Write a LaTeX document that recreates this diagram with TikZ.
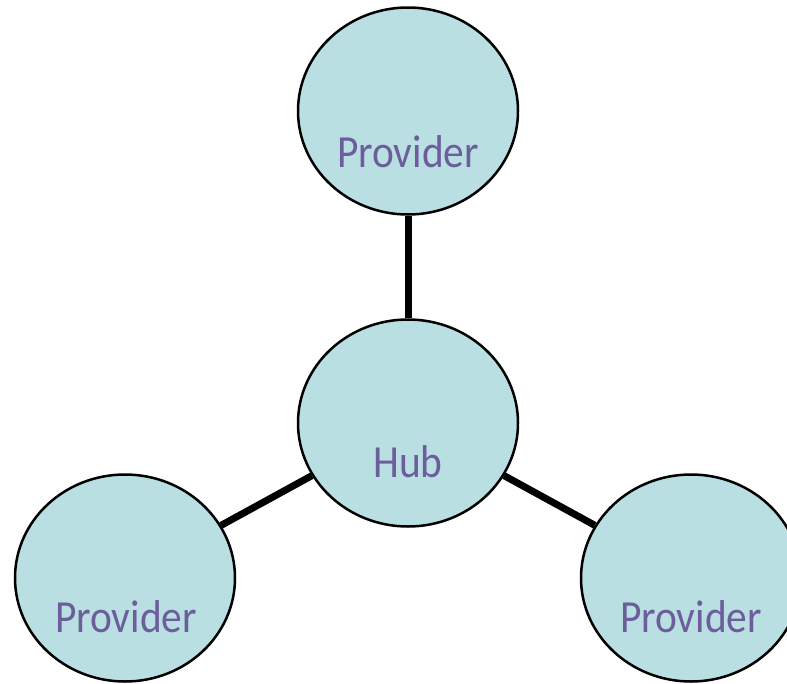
\documentclass[tikz,border=0pt]{standalone}
\usepackage{fontspec}
\setmainfont{Carlito}
\usetikzlibrary{shapes.geometric}
\definecolor{bubblefill}{HTML}{B9DFE2}
\definecolor{labelpurple}{HTML}{6B5E9B}
\begin{document}
\begin{tikzpicture}[x=1pt,y=-1pt,
  bubble/.style={ellipse, draw=black, line width=2.5pt, fill=bubblefill,
    minimum width=220pt, minimum height=207pt, inner sep=0pt},
  caption/.style={anchor=base, text=labelpurple, inner sep=0pt,
    font=\fontsize{46}{50}\selectfont, xscale=0.9},
  link/.style={line width=7pt, black}]
\useasboundingbox (0,0) rectangle (787,683);
\clip (0,0) rectangle (787,683);
% circles
\node[bubble] (top) at (408,111) {};
\node[bubble] (hub) at (408,423) {};
\node[bubble] (left) at (125,578) {};
\node[bubble] (right) at (691,578) {};
% spokes
\draw[link] (top) -- (hub);
\draw[link] (hub) -- (left);
\draw[link] (hub) -- (right);
% labels
\node[caption] (ttop) at (408,167) {Provider};
\node[caption] (thub) at (408,477) {Hub};
\node[caption] (tleft) at (126,632) {Provider};
\node[caption] (tright) at (691,632) {Provider};
\end{tikzpicture}
\end{document}
